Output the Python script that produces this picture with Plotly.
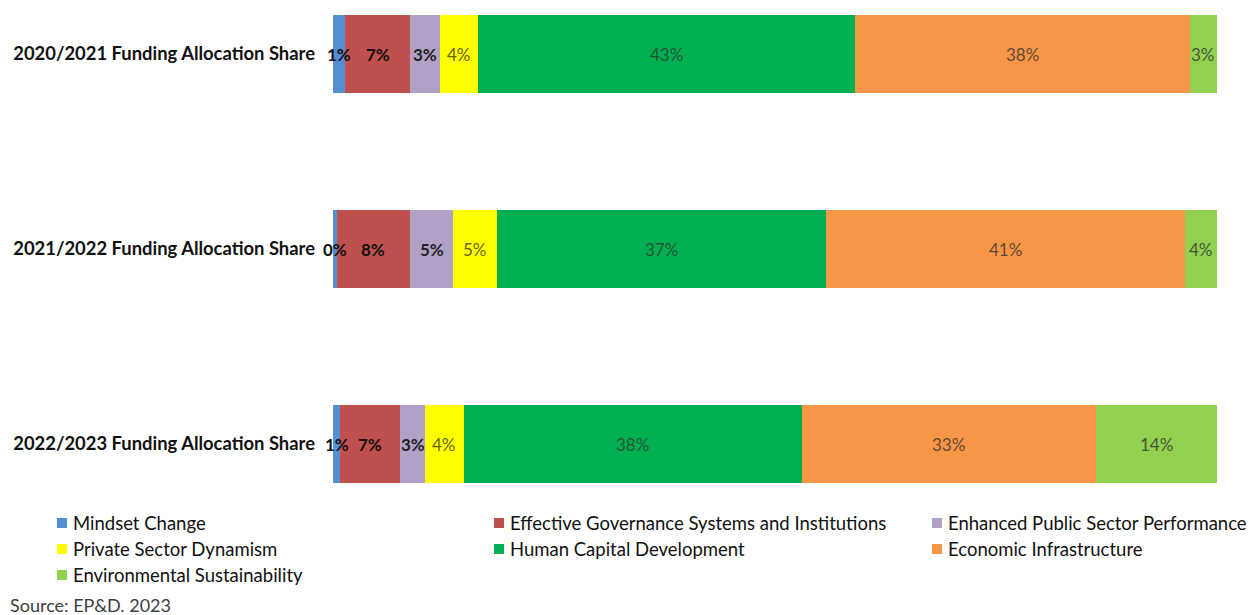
import plotly.graph_objects as go

# Funding allocation shares (percent of annual total) by programme area
years = [
    "2020/2021 Funding Allocation Share",
    "2021/2022 Funding Allocation Share",
    "2022/2023 Funding Allocation Share",
]
series_names = [
    "Mindset Change",
    "Effective Governance Systems and Institutions",
    "Enhanced Public Sector Performance",
    "Private Sector Dynamism",
    "Human Capital Development",
    "Economic Infrastructure",
    "Environmental Sustainability",
]
mindset_change = [1.4, 0.4, 0.8]
effective_governance = [7.3, 8.3, 6.8]
public_sector_performance = [3.4, 4.9, 2.8]
private_sector_dynamism = [4.3, 4.9, 4.4]
human_capital = [42.7, 37.3, 38.2]
economic_infrastructure = [37.8, 40.6, 33.3]
environmental_sustainability = [3.1, 3.6, 13.7]
source_note = "Source: EP&D. 2023"

series_values = [
    mindset_change,
    effective_governance,
    public_sector_performance,
    private_sector_dynamism,
    human_capital,
    economic_infrastructure,
    environmental_sustainability,
]
colors = ["#558ED5", "#C0504D", "#B2A1C7", "#FFFF00", "#00B050", "#F79646", "#92D050"]
label_bold = [True, True, True, False, False, False, False]
label_colors = ["#111111", "#111111", "#222222", "rgba(70,70,0,0.85)",
                "rgba(50,50,50,0.75)", "rgba(50,50,50,0.8)", "rgba(50,50,50,0.8)"]

FONT = "Lato, 'Open Sans', sans-serif"
FS = 18.5

fig = go.Figure()
for name, vals, col in zip(series_names, series_values, colors):
    fig.add_trace(go.Bar(
        y=years, x=vals, name=name, orientation="h",
        marker=dict(color=col, line=dict(width=0)),
        width=0.4, showlegend=False, hoverinfo="x+name",
    ))

# Segment value labels, centred on each stacked segment
annotations = []
for j, yr in enumerate(years):
    start = 0.0
    for i, vals in enumerate(series_values):
        v = vals[j]
        txt = f"{v:.0f}%"
        if label_bold[i]:
            txt = f"<b>{txt}</b>"
        annotations.append(dict(
            x=start + v / 2, y=yr, xref="x", yref="y", text=txt,
            showarrow=False, xanchor="center", yanchor="middle",
            font=dict(family=FONT, size=17, color=label_colors[i]),
        ))
        start += v

# Plot-area geometry in pixels, used to place the hand-built legend
W, H = 1255, 615
L, R, T, B = 333, 38, 0, 115
pw, ph = W - L - R, H - T - B


def px_x(x):
    return (x - L) / pw


def px_y(y):
    return (H - B - y) / ph


shapes = []
legend_cols = [57, 494, 932]
legend_rows = [523, 549, 575]
for k, (name, col) in enumerate(zip(series_names, colors)):
    cx = legend_cols[k % 3]
    cy = legend_rows[k // 3]
    shapes.append(dict(
        type="rect", xref="paper", yref="paper",
        x0=px_x(cx), x1=px_x(cx + 10), y0=px_y(cy - 5), y1=px_y(cy + 5),
        fillcolor=col, line=dict(width=0),
    ))
    annotations.append(dict(
        x=px_x(cx + 14), y=px_y(cy), xref="paper", yref="paper",
        text=name, showarrow=False, xanchor="left", yanchor="middle",
        font=dict(family=FONT, size=FS, color="#111111"),
    ))

annotations.append(dict(
    x=px_x(8), y=px_y(605), xref="paper", yref="paper",
    text=source_note, showarrow=False, xanchor="left", yanchor="middle",
    font=dict(family=FONT, size=18, color="#404040"),
))

fig.update_layout(
    barmode="stack",
    width=W, height=H,
    margin=dict(l=L, r=R, t=T, b=B, pad=0),
    paper_bgcolor="white", plot_bgcolor="white",
    bargap=0.6,
    xaxis=dict(range=[0, 100], visible=False, fixedrange=True),
    yaxis=dict(
        range=[2.287, -0.277], showgrid=False, zeroline=False, showline=False,
        ticks="", ticklabelstandoff=17,
        tickfont=dict(family=FONT, size=18.4, color="#111111", weight="bold"),
    ),
    annotations=annotations,
    shapes=shapes,
    font=dict(family=FONT),
)

fig.write_html("out.html")
